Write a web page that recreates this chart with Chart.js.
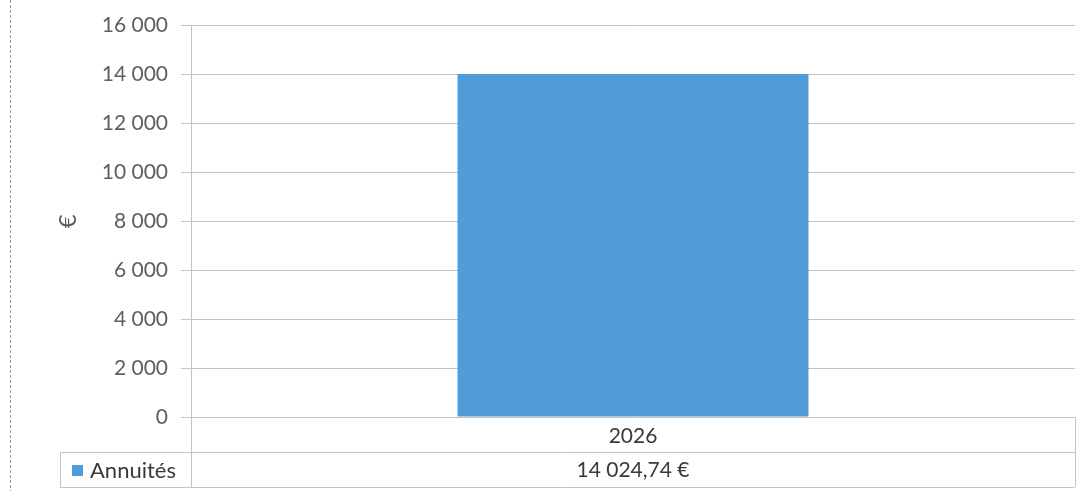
<!DOCTYPE html>
<html>
<head>
<meta charset="utf-8">
<script src="https://cdn.jsdelivr.net/npm/chart.js@4/dist/chart.umd.min.js"></script>
<style>
  html, body { margin: 0; padding: 0; background: #fff; }
  #wrap { width: 1088px; height: 491px; }
</style>
</head>
<body>
<div id="wrap"><canvas id="annuitesChart"></canvas></div>
<script>
// data
const years = ['2026'];
const annuites = [14024.74];
const seriesName = 'Annuités';
const yTicks = [0, 2000, 4000, 6000, 8000, 10000, 12000, 14000, 16000];

const fmtThousands = v => String(v).replace(/\B(?=(\d{3})+(?!\d))/g, ' ');
const fmtEuro = v => {
    const parts = v.toFixed(2).split('.');
    return fmtThousands(parts[0]) + ',' + parts[1] + ' €';
};

const FONT = 'Lato, "Noto Sans", sans-serif';
const LINE = '#c4c4c4';
const BAR = '#519bd6';

// draws the data table under the plot, plus the scanned page edge on the left
const dataTable = {
    id: 'dataTable',
    afterDraw(chart) {
        const ctx = chart.ctx;
        const area = chart.chartArea;
        const x = chart.scales.x;
        const tableLeft = 60;
        const row1 = area.bottom;
        const row2 = area.bottom + 35;
        const row3 = area.bottom + 70;

        ctx.save();
        ctx.strokeStyle = LINE;
        ctx.lineWidth = 1;
        ctx.beginPath();
        ctx.moveTo(tableLeft, row2 + 0.5); ctx.lineTo(area.right, row2 + 0.5);
        ctx.moveTo(tableLeft, row3 + 0.5); ctx.lineTo(area.right, row3 + 0.5);
        ctx.moveTo(tableLeft + 0.5, row2); ctx.lineTo(tableLeft + 0.5, row3);
        ctx.moveTo(area.left + 0.5, row1); ctx.lineTo(area.left + 0.5, row3);
        ctx.moveTo(area.right + 0.5, row1); ctx.lineTo(area.right + 0.5, row3);
        ctx.stroke();

        // page edge from the scan
        ctx.strokeStyle = '#9a9a9a';
        ctx.setLineDash([3, 2]);
        ctx.beginPath();
        ctx.moveTo(10.5, 0); ctx.lineTo(10.5, chart.height);
        ctx.stroke();
        ctx.setLineDash([]);

        ctx.font = '21px ' + FONT;
        ctx.fillStyle = '#3a3a3a';
        ctx.textAlign = 'center';
        ctx.textBaseline = 'middle';
        years.forEach((label, i) => {
            const cx = x.getPixelForValue(i);
            ctx.fillText(label, cx, (row1 + row2) / 2 + 2);
            ctx.fillText(fmtEuro(annuites[i]), cx, (row2 + row3) / 2 + 1);
        });

        // legend key cell
        ctx.fillStyle = BAR;
        ctx.fillRect(tableLeft + 12, row2 + 13, 11, 11);
        ctx.fillStyle = '#3a3a3a';
        ctx.textAlign = 'left';
        ctx.font = '22px ' + FONT;
        ctx.fillText(seriesName, tableLeft + 30, (row2 + row3) / 2 + 1);
        ctx.restore();
    }
};

new Chart(document.getElementById('annuitesChart'), {
    type: 'bar',
    data: {
        labels: years,
        datasets: [{
            label: seriesName,
            data: annuites,
            backgroundColor: BAR,
            borderWidth: 0,
            categoryPercentage: 1,
            barPercentage: 0.397
        }]
    },
    options: {
        responsive: true,
        maintainAspectRatio: false,
        animation: false,
        layout: { padding: { top: 24, right: 13, bottom: 74, left: 0 } },
        plugins: {
            legend: { display: false },
            tooltip: { enabled: false }
        },
        scales: {
            x: { display: false },
            y: {
                min: 0,
                max: 16000,
                afterFit(scale) { scale.width = 191; },
                afterBuildTicks(scale) { scale.ticks = yTicks.map(v => ({ value: v })); },
                ticks: {
                    color: '#5f5f5f',
                    font: { family: FONT, size: 21 },
                    padding: 13,
                    callback: v => fmtThousands(v)
                },
                grid: { color: LINE, tickLength: 10 },
                border: { color: LINE },
                title: {
                    display: true,
                    text: '€',
                    color: '#5f5f5f',
                    font: { family: FONT, size: 24 },
                    padding: { top: 54, bottom: 0 }
                }
            }
        }
    },
    plugins: [dataTable]
});
</script>
</body>
</html>
